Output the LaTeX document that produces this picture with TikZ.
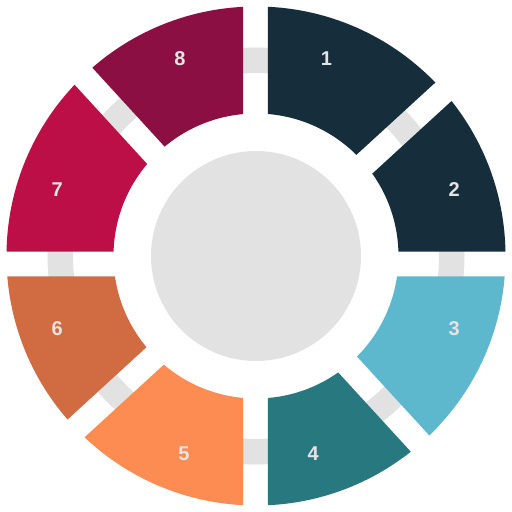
\documentclass[tikz,border=0pt]{standalone}
\usepackage{fontspec}
\setmainfont{Liberation Sans}
\definecolor{navy}{HTML}{162D3B}
\definecolor{skyblue}{HTML}{5DB8CE}
\definecolor{teal}{HTML}{287880}
\definecolor{apricot}{HTML}{FC8C52}
\definecolor{rust}{HTML}{D16C42}
\definecolor{crimson}{HTML}{BC0F48}
\definecolor{wine}{HTML}{8B0F42}
\definecolor{ringgray}{HTML}{E2E2E2}
\definecolor{numgray}{HTML}{E4E4E4}
\tikzset{
  numlabel/.style={text=numgray, inner sep=0pt, font=\bfseries\fontsize{20}{24}\selectfont},
}
\begin{document}
\begin{tikzpicture}[x=1pt,y=1pt]
\def\rin{142.5pt}
\def\rout{249.5pt}
\def\halfgap{12.3}
\useasboundingbox (-256,-256) rectangle (256,256);
\fill[white] (-256,-256) rectangle (256,256);
\coordinate (O) at (0,0);
\coordinate (G) at (-0.5,-8);
	% ring and hub
	\draw[line width=25.5pt, ringgray] (O) circle (195.75pt);
	\fill[ringgray] (O) circle (105pt);
	% the eight segments
	\foreach \a/\b/\col in {42.5/90/navy, 0/42.5/navy, -47.5/0/skyblue, -90/-47.5/teal, -137.5/-90/apricot, -180/-137.5/rust, 132.5/180/crimson, 90/132.5/wine}{
		\begin{scope}
		\clip[shift={(G)}] ({(\a+\b)/2}:{\halfgap/sin((\b-\a)/2)}) -- +(\a:400) -- +(\b:400) -- cycle;
		\fill[\col, even odd rule] (O) circle (\rout) (O) circle (\rin);
		\end{scope}
	}
	% numbers
	\foreach \n/\x/\y in {1/70.5/197, 2/198.3/66.5, 3/198.3/-73, 4/57.3/-198, 5/-72/-198, 6/-198.7/-73, 7/-198.7/66.5, 8/-76/197}
		\node[numlabel] (lab\n) at (\x,\y) {\n};
\end{tikzpicture}
\end{document}
